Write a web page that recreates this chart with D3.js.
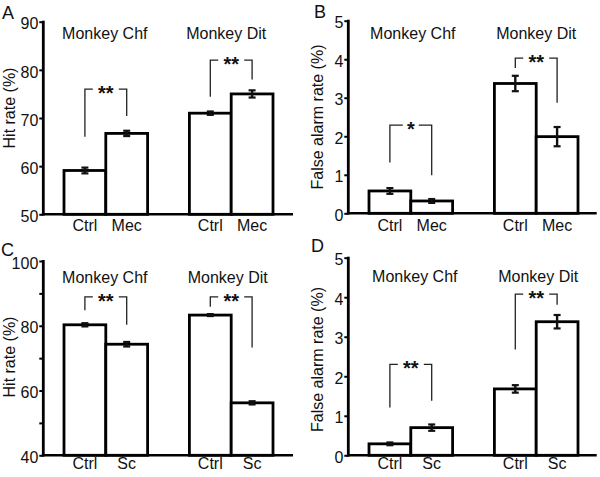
<!DOCTYPE html>
<html>
<head>
<meta charset="utf-8">
<script src="https://cdn.jsdelivr.net/npm/d3@7"></script>
<style>
  html, body { margin: 0; padding: 0; background: #fff; }
  svg { display: block; }
  text { font-family: "Liberation Sans", Arial, Helvetica, sans-serif; fill: #111; }
</style>
</head>
<body>
<svg id="chart" width="600" height="477"></svg>
<script>
// ---------- DATA ----------
const groups = ["Monkey Chf", "Monkey Dit"];
const condMec = ["Ctrl", "Mec"];
const condSc = ["Ctrl", "Sc"];

// order: Chf-Ctrl, Chf-Drug, Dit-Ctrl, Dit-Drug
const hitMecMean = [59.1, 66.8, 71.0, 75.0];
const hitMecErr  = [0.6, 0.55, 0.35, 0.75];
const faMecMean  = [0.58, 0.32, 3.37, 1.99];
const faMecErr   = [0.075, 0.05, 0.2, 0.25];
const hitScMean  = [80.3, 74.3, 83.3, 56.2];
const hitScErr   = [0.5, 0.7, 0.3, 0.5];
const faScMean   = [0.29, 0.70, 1.68, 3.38];
const faScErr    = [0.035, 0.08, 0.095, 0.17];

const ticksHitA = [50, 60, 70, 80, 90];
const ticksFA   = [0, 1, 2, 3, 4, 5];
const ticksHitC = [40, 50, 60, 70, 80, 90, 100];
const labelsHitC = [40, 60, 80, 100];

// significance brackets: group index, top level, left-leg end, right-leg end (data units)
const sigA = [{g: 0, top: 76.0, l: 66.1, r: 70.4, s: "**"}, {g: 1, top: 82.0, l: 74.4, r: 78.0, s: "**"}];
const sigB = [{g: 0, top: 2.29, l: 1.32, r: 0.99, s: "*"},  {g: 1, top: 4.03, l: 3.77, r: 2.87, s: "**"}];
const sigC = [{g: 0, top: 88.9, l: 84.8, r: 80.3, s: "**"}, {g: 1, top: 88.9, l: 85.9, r: 73.3, s: "**"}];
const sigD = [{g: 0, top: 2.30, l: 1.21, r: 1.38, s: "**"}, {g: 1, top: 4.08, l: 2.68, r: 3.81, s: "**"}];

// ---------- PANELS (layout) ----------
const panels = [
  {letter: "A", lx: 2, ly: 19, ax: 43.3, xEnd: 293, y0: 214.3, y1: 21.7, domain: [50, 90],
   ticks: ticksHitA, labels: ticksHitA, yLabel: "Hit rate (%)", ylx: 15, yly: 108, titleY: 39, titleDx: [-1, -5], catY: 231,
   conds: condMec, mean: hitMecMean, err: hitMecErr, sig: sigA},
  {letter: "B", lx: 314, ly: 18, ax: 348.3, xEnd: 596.7, y0: 213.3, y1: 20.7, domain: [0, 5],
   ticks: ticksFA, labels: ticksFA, yLabel: "False alarm rate (%)", ylx: 323, yly: 117, titleY: 38.5, titleDx: [2, 0], catY: 231,
   conds: condMec, mean: faMecMean, err: faMecErr, sig: sigB},
  {letter: "C", lx: 1, ly: 256, ax: 43.3, xEnd: 293, y0: 455.3, y1: 261, domain: [40, 100],
   ticks: ticksHitC, labels: labelsHitC, yLabel: "Hit rate (%)", ylx: 15, yly: 357, titleY: 283, titleDx: [-1, -3.5], catY: 469,
   conds: condSc, mean: hitScMean, err: hitScErr, sig: sigC},
  {letter: "D", lx: 311, ly: 252, ax: 348.3, xEnd: 596.7, y0: 455.3, y1: 257.7, domain: [0, 5],
   ticks: ticksFA, labels: ticksFA, yLabel: "False alarm rate (%)", ylx: 323, yly: 359.5, titleY: 282, titleDx: [4, 2], catY: 469,
   conds: condSc, mean: faScMean, err: faScErr, sig: sigD}
];

const svg = d3.select("#chart");

panels.forEach(p => {
  const g = svg.append("g");
  const y = d3.scaleLinear().domain(p.domain).range([p.y0, p.y1]);
  const xg = d3.scaleBand().domain(groups).range([p.ax + 20.7, p.ax + 20.7 + 209]).paddingInner(1 / 3).paddingOuter(0);
  const xc = d3.scaleBand().domain(p.conds).range([0, xg.bandwidth()]).padding(0);

  const rows = [];
  groups.forEach((gr, gi) => p.conds.forEach((c, ci) => {
    rows.push({group: gr, gi, cond: c, v: p.mean[gi * 2 + ci], e: p.err[gi * 2 + ci]});
  }));
  const cx = d => xg(d.group) + xc(d.cond) + xc.bandwidth() / 2;

  // bars
  g.selectAll("rect.bar").data(rows).join("rect")
    .attr("class", "bar")
    .attr("x", d => xg(d.group) + xc(d.cond))
    .attr("y", d => y(d.v))
    .attr("width", xc.bandwidth())
    .attr("height", d => y(p.domain[0]) - y(d.v))
    .attr("fill", "#fff").attr("stroke", "#000").attr("stroke-width", 2.8);

  // error bars
  const eb = g.selectAll("g.eb").data(rows).join("g").attr("class", "eb");
  eb.append("line")
    .attr("x1", cx).attr("x2", cx)
    .attr("y1", d => y(d.v - d.e)).attr("y2", d => y(d.v + d.e))
    .attr("stroke", "#111").attr("stroke-width", 2.4);
  [-1, 1].forEach(s => {
    eb.append("line")
      .attr("x1", d => cx(d) - 3.5).attr("x2", d => cx(d) + 3.5)
      .attr("y1", d => y(d.v + s * d.e)).attr("y2", d => y(d.v + s * d.e))
      .attr("stroke", "#111").attr("stroke-width", 2.2);
  });

  // y axis
  const yAxis = d3.axisLeft(y).tickValues(p.ticks).tickSize(4).tickPadding(1)
    .tickFormat(v => p.labels.includes(v) ? d3.format("d")(v) : "");
  const ya = g.append("g").attr("transform", `translate(${p.ax},0)`).call(yAxis);
  ya.select(".domain").remove();
  ya.selectAll(".tick line").attr("stroke", "#000").attr("stroke-width", 2);
  ya.selectAll(".tick text").attr("font-size", 16).attr("dy", "0.45em")
    .attr("font-family", "Liberation Sans, Arial, sans-serif").attr("fill", "#111");
  g.append("line").attr("x1", p.ax).attr("x2", p.ax)
    .attr("y1", y(p.domain[1]) - 1).attr("y2", y(p.domain[0]) + 1.2)
    .attr("stroke", "#000").attr("stroke-width", 2.8);
  // x axis line
  g.append("line").attr("x1", p.ax - 1.4).attr("x2", p.xEnd)
    .attr("y1", y(p.domain[0])).attr("y2", y(p.domain[0]))
    .attr("stroke", "#000").attr("stroke-width", 2.6);

  // category labels
  g.selectAll("text.cat").data(rows).join("text").attr("class", "cat")
    .attr("x", cx).attr("y", p.catY)
    .attr("text-anchor", "middle").attr("font-size", 16).text(d => d.cond);

  // group titles
  g.selectAll("text.title").data(groups).join("text").attr("class", "title")
    .attr("x", (d, i) => xg(d) + xg.bandwidth() / 2 + p.titleDx[i]).attr("y", p.titleY)
    .attr("text-anchor", "middle").attr("font-size", 16).text(d => d);

  // y label
  g.append("text")
    .attr("transform", `translate(${p.ylx},${p.yly}) rotate(-90)`)
    .attr("text-anchor", "middle").attr("font-size", 16).text(p.yLabel);

  // panel letter
  g.append("text").attr("x", p.lx).attr("y", p.ly).attr("font-size", 18).text(p.letter);

  // significance brackets
  p.sig.forEach(s => {
    const gname = groups[s.g];
    const xl = xg(gname) + xc(p.conds[0]) + xc.bandwidth() / 2;
    const xr = xg(gname) + xc(p.conds[1]) + xc.bandwidth() / 2;
    const yt = y(s.top);
    const mid = (xl + xr) / 2;
    const half = s.s.length * 5 + 3;
    const path = d3.path();
    path.moveTo(xl, y(s.l)); path.lineTo(xl, yt); path.lineTo(mid - half, yt);
    path.moveTo(mid + half, yt); path.lineTo(xr, yt); path.lineTo(xr, y(s.r));
    g.append("path").attr("d", path.toString()).attr("fill", "none")
      .attr("stroke", "#222").attr("stroke-width", 1.3);
    g.append("text").attr("x", mid).attr("y", yt + 11)
      .attr("text-anchor", "middle").attr("font-size", 20)
      .attr("font-family", "DejaVu Sans, sans-serif").attr("font-weight", "bold")
      .text(s.s);
  });
});
</script>
</body>
</html>
